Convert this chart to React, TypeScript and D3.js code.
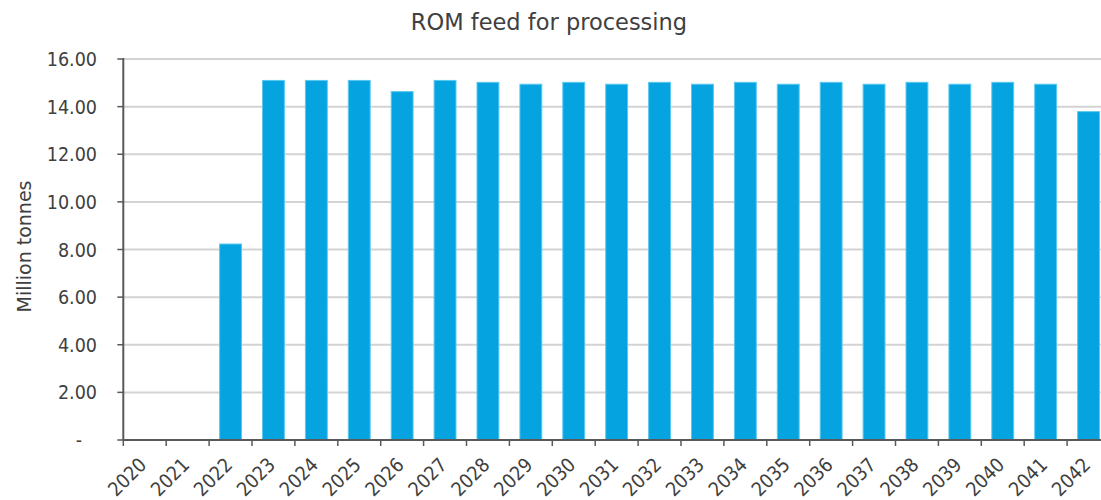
import React from "react";
import * as d3 from "d3";

const years = ["2020","2021","2022","2023","2024","2025","2026","2027","2028","2029","2030","2031","2032","2033","2034","2035","2036","2037","2038","2039","2040","2041","2042"];
const romFeed = [0, 0, 8.23, 15.1, 15.1, 15.1, 14.63, 15.1, 15.02, 14.94, 15.02, 14.94, 15.02, 14.94, 15.02, 14.94, 15.02, 14.94, 15.02, 14.94, 15.02, 14.94, 13.79];
const yTicks = [0, 2, 4, 6, 8, 10, 12, 14, 16];

const W = 1101, H = 500;
const left = 123.3, cat = 42.9;
const right = left + cat * years.length;
const top = 59, bottom = 440;
const font = "'DejaVu Sans Condensed', 'DejaVu Sans', sans-serif";
const titleFont = "'DejaVu Sans', sans-serif";

export default function App() {
  const x = d3.scaleBand().domain(years).range([left, right]).paddingInner(0.49).paddingOuter(0.245);
  const y = d3.scaleLinear().domain([0, 16]).range([bottom, top]);
  const fmt = (v: number) => (v === 0 ? "-" : d3.format(".2f")(v));
  const axisColor = "#595959";
  return (
    <div style={{ position: "absolute", left: 0, top: 0 }}>
      <svg width={W} height={H} style={{ display: "block" }}>
        <rect width={W} height={H} fill="#fff" />
        <text x={549} y={30} textAnchor="middle" fontFamily={titleFont} fontSize={22.5} fill="#404040">ROM feed for processing</text>
        <text transform={`translate(31,246.5) rotate(-90)`} textAnchor="middle" fontFamily={titleFont} fontSize={19} fill="#404040">Million tonnes</text>
        {yTicks.map(t => (
          <g key={t}>
            {t > 0 && <line x1={left} x2={W} y1={y(t)} y2={y(t)} stroke="#d3d3d3" strokeWidth={2} />}
            <line x1={left - 6} x2={left} y1={y(t)} y2={y(t)} stroke={axisColor} strokeWidth={1.5} />
            <text x={t === 0 ? 82 : 97} y={y(t)} dy="0.36em" textAnchor="end" fontFamily={font} fontStretch="condensed" fontSize={19.5} fill="#404040">{fmt(t)}</text>
          </g>
        ))}
        {years.map((yr, i) => (
          <rect key={yr} x={x(yr)} y={y(romFeed[i])} width={x.bandwidth()} height={bottom - y(romFeed[i])} fill="#05a4e1" stroke="#5ac8f0" strokeWidth={1} />
        ))}
        <line x1={left} x2={left} y1={top - 1} y2={bottom} stroke={axisColor} strokeWidth={2} />
        <line x1={left} x2={W} y1={bottom} y2={bottom} stroke={axisColor} strokeWidth={2} />
        {years.map((yr, i) => (
          <line key={"t" + yr} x1={left + cat * i} x2={left + cat * i} y1={bottom} y2={bottom + 6} stroke={axisColor} strokeWidth={1.5} />
        ))}
        {years.map(yr => {
          const cx = (x(yr) as number) + x.bandwidth() / 2;
          return (
            <text key={"l" + yr} transform={`translate(${cx + 3},${bottom + 26}) rotate(-45)`} textAnchor="end" fontFamily={font} fontStretch="condensed" fontSize={19.5} fill="#404040">{yr}</text>
          );
        })}
      </svg>
    </div>
  );
}
